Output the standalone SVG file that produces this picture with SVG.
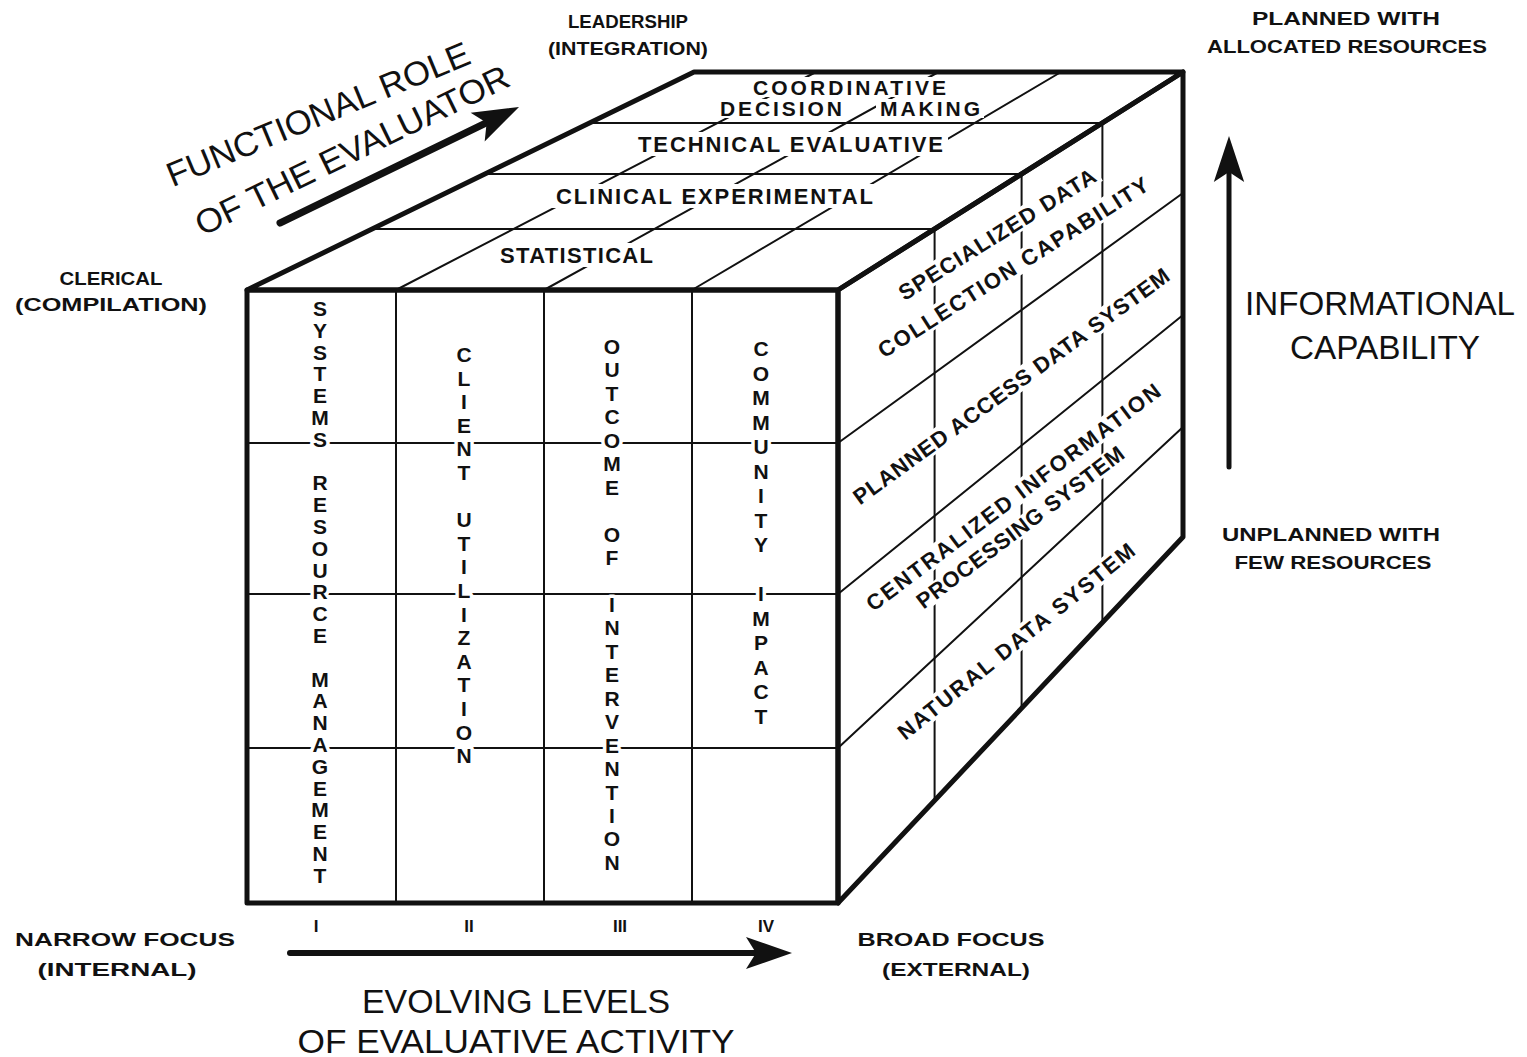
<svg xmlns="http://www.w3.org/2000/svg" width="1527" height="1057" viewBox="0 0 1527 1057">
  <style>
    .edge{fill:none;stroke:#111;stroke-width:5;stroke-linejoin:round;stroke-linecap:round}
    .grid{fill:none;stroke:#111;stroke-width:2;stroke-linecap:round}
    .shaft{fill:none;stroke:#111;stroke-linecap:round}
    .head{fill:#111}
    .mask{fill:#fff}
    .lbl{font-family:'Liberation Sans',Arial,sans-serif;font-weight:bold;font-size:18px;fill:#111;text-anchor:middle}
    .big{font-family:'Liberation Sans',Arial,sans-serif;font-weight:normal;font-size:34px;fill:#111;text-anchor:middle}
    .cell{font-family:'Liberation Sans',Arial,sans-serif;font-weight:bold;font-size:22px;fill:#111}
    .mid{text-anchor:middle}
    .col{text-anchor:middle;font-size:21px;stroke:#fff;stroke-width:7;stroke-linejoin:round;paint-order:stroke}
    .rn{font-family:'Liberation Sans',Arial,sans-serif;font-weight:bold;font-size:17px;fill:#111;text-anchor:middle}
  </style>
  <defs>
    <!-- barbed arrowhead, tip at origin pointing along +x -->
    <path id="head" d="M0,0 L-46,-16 L-36,0 L-46,16 Z"/>
  </defs>
  <rect width="1527" height="1057" fill="#fff"/>

  <!-- inner grid lines of the three faces -->
  <g id="connectors">
    <g id="top-grid" class="grid">
      <line x1="372" y1="229" x2="934.6" y2="229"/>
      <line x1="485" y1="174" x2="1021.6" y2="174"/>
      <line x1="589" y1="123" x2="1102.4" y2="123"/>
      <line x1="396" y1="290" x2="816" y2="72"/>
      <line x1="544" y1="290" x2="938.5" y2="72"/>
      <line x1="692" y1="290" x2="1061" y2="72"/>
    </g>
    <g id="right-grid" class="grid">
      <line x1="838" y1="443" x2="1183" y2="193"/>
      <line x1="838" y1="594" x2="1183" y2="315"/>
      <line x1="838" y1="748" x2="1183" y2="427"/>
      <line x1="934.6" y1="229" x2="934.6" y2="800.5"/>
      <line x1="1021.6" y1="174" x2="1021.6" y2="708"/>
      <line x1="1102.4" y1="123" x2="1102.4" y2="622.5"/>
    </g>
    <g id="front-grid" class="grid">
      <line x1="396" y1="290" x2="396" y2="903"/>
      <line x1="544" y1="290" x2="544" y2="903"/>
      <line x1="692" y1="290" x2="692" y2="903"/>
      <line x1="247" y1="443" x2="838" y2="443"/>
      <line x1="247" y1="594" x2="838" y2="594"/>
      <line x1="247" y1="748" x2="838" y2="748"/>
    </g>
  </g>

  <!-- top face: functional role levels (white plates break the grid behind the words) -->
  <g id="top-face">
    <g id="level-statistical">
      <rect class="mask" x="495" y="243" width="163" height="24"/>
      <text class="cell" x="500" y="263" textLength="153" lengthAdjust="spacing">STATISTICAL</text>
    </g>
    <g id="level-clinical">
      <rect class="mask" x="551" y="184" width="327" height="24"/>
      <text class="cell" x="556" y="204" textLength="317" lengthAdjust="spacing">CLINICAL EXPERIMENTAL</text>
    </g>
    <g id="level-technical">
      <rect class="mask" x="633" y="132" width="315" height="24"/>
      <text class="cell" x="638" y="152" textLength="305" lengthAdjust="spacing">TECHNICAL EVALUATIVE</text>
    </g>
    <g id="level-coordinative">
      <rect class="mask" x="749" y="77" width="201" height="20"/>
      <rect class="mask" x="716" y="99" width="130" height="19"/>
      <rect class="mask" x="876" y="99" width="108" height="19"/>
      <text class="cell" x="753" y="95" style="font-size:21px" textLength="193" lengthAdjust="spacing">COORDINATIVE</text>
      <text class="cell" x="720" y="116" style="font-size:21px" textLength="122" lengthAdjust="spacing">DECISION</text>
      <text class="cell" x="880" y="116" style="font-size:21px" textLength="100" lengthAdjust="spacing">MAKING</text>
    </g>
  </g>

  <!-- right face: informational capability levels -->
  <g id="right-face">
    <g id="level-specialized">
      <g transform="translate(997,234) rotate(-32)">
        <rect class="mask" x="-118" y="-11" width="236" height="22"/>
        <text class="cell mid" y="8" textLength="228" lengthAdjust="spacing">SPECIALIZED DATA</text>
      </g>
      <g transform="translate(1013,267) rotate(-32.5)">
        <rect class="mask" x="-162" y="-11" width="324" height="22"/>
        <text class="cell mid" y="8" textLength="316" lengthAdjust="spacing">COLLECTION CAPABILITY</text>
      </g>
    </g>
    <g id="level-planned-access" transform="translate(1011,386) rotate(-36)">
      <rect class="mask" x="-196" y="-11" width="392" height="22"/>
      <text class="cell mid" y="8" textLength="385" lengthAdjust="spacing">PLANNED ACCESS DATA SYSTEM</text>
    </g>
    <g id="level-centralized">
      <g transform="translate(1013,497) rotate(-37)">
        <rect class="mask" x="-185" y="-11" width="370" height="22"/>
        <text class="cell mid" y="8" textLength="362" lengthAdjust="spacing">CENTRALIZED INFORMATION</text>
      </g>
      <g transform="translate(1020,527) rotate(-37)">
        <rect class="mask" x="-131" y="-9" width="262" height="20"/>
        <text class="cell mid" y="8" textLength="254" lengthAdjust="spacing">PROCESSING SYSTEM</text>
      </g>
    </g>
    <g id="level-natural" transform="translate(1016,641) rotate(-39)">
      <rect class="mask" x="-153" y="-11" width="306" height="22"/>
      <text class="cell mid" y="8" textLength="298" lengthAdjust="spacing">NATURAL DATA SYSTEM</text>
    </g>
  </g>

  <!-- front face: evaluative activity levels, lettered vertically -->
  <g id="front-face">
    <text id="level-1" class="cell col"><tspan x="320" y="316">S</tspan><tspan x="320" y="338">Y</tspan><tspan x="320" y="360">S</tspan><tspan x="320" y="381">T</tspan><tspan x="320" y="403">E</tspan><tspan x="320" y="425">M</tspan><tspan x="320" y="447">S</tspan><tspan x="320" y="490">R</tspan><tspan x="320" y="512">E</tspan><tspan x="320" y="534">S</tspan><tspan x="320" y="556">O</tspan><tspan x="320" y="578">U</tspan><tspan x="320" y="599">R</tspan><tspan x="320" y="621">C</tspan><tspan x="320" y="643">E</tspan><tspan x="320" y="687">M</tspan><tspan x="320" y="708">A</tspan><tspan x="320" y="730">N</tspan><tspan x="320" y="752">A</tspan><tspan x="320" y="774">G</tspan><tspan x="320" y="796">E</tspan><tspan x="320" y="817">M</tspan><tspan x="320" y="839">E</tspan><tspan x="320" y="861">N</tspan><tspan x="320" y="883">T</tspan></text>
    <text id="level-2" class="cell col"><tspan x="464" y="362">C</tspan><tspan x="464" y="386">L</tspan><tspan x="464" y="409">I</tspan><tspan x="464" y="433">E</tspan><tspan x="464" y="456">N</tspan><tspan x="464" y="480">T</tspan><tspan x="464" y="527">U</tspan><tspan x="464" y="551">T</tspan><tspan x="464" y="574">I</tspan><tspan x="464" y="598">L</tspan><tspan x="464" y="622">I</tspan><tspan x="464" y="645">Z</tspan><tspan x="464" y="669">A</tspan><tspan x="464" y="692">T</tspan><tspan x="464" y="716">I</tspan><tspan x="464" y="740">O</tspan><tspan x="464" y="763">N</tspan></text>
    <text id="level-3" class="cell col"><tspan x="612" y="354">O</tspan><tspan x="612" y="377">U</tspan><tspan x="612" y="401">T</tspan><tspan x="612" y="424">C</tspan><tspan x="612" y="448">O</tspan><tspan x="612" y="471">M</tspan><tspan x="612" y="495">E</tspan><tspan x="612" y="542">O</tspan><tspan x="612" y="565">F</tspan><tspan x="612" y="612">I</tspan><tspan x="612" y="635">N</tspan><tspan x="612" y="659">T</tspan><tspan x="612" y="682">E</tspan><tspan x="612" y="706">R</tspan><tspan x="612" y="729">V</tspan><tspan x="612" y="753">E</tspan><tspan x="612" y="776">N</tspan><tspan x="612" y="800">T</tspan><tspan x="612" y="823">I</tspan><tspan x="612" y="846">O</tspan><tspan x="612" y="870">N</tspan></text>
    <text id="level-4" class="cell col"><tspan x="761" y="356">C</tspan><tspan x="761" y="381">O</tspan><tspan x="761" y="405">M</tspan><tspan x="761" y="430">M</tspan><tspan x="761" y="454">U</tspan><tspan x="761" y="479">N</tspan><tspan x="761" y="503">I</tspan><tspan x="761" y="528">T</tspan><tspan x="761" y="552">Y</tspan><tspan x="761" y="601">I</tspan><tspan x="761" y="626">M</tspan><tspan x="761" y="650">P</tspan><tspan x="761" y="675">A</tspan><tspan x="761" y="699">C</tspan><tspan x="761" y="724">T</tspan></text>
  </g>

  <!-- heavy outline of the cube -->
  <g id="cube-outline" class="edge">
    <polygon points="247,290 694,72 1183,72 838,290"/>
    <polygon points="838,290 1183,72 1183,537 838,903"/>
    <rect x="247" y="290" width="591" height="613"/>
  </g>

  <!-- axis arrows -->
  <g id="arrows">
    <g id="arrow-role">
      <line class="shaft" x1="280" y1="223" x2="488" y2="122" stroke-width="7"/>
      <use href="#head" class="head" transform="translate(519,107) rotate(-26)"/>
    </g>
    <g id="arrow-info">
      <line class="shaft" x1="1229" y1="467" x2="1229" y2="165" stroke-width="5"/>
      <use href="#head" class="head" transform="translate(1229,136) rotate(-90) scale(1,0.95)"/>
    </g>
    <g id="arrow-levels">
      <line class="shaft" x1="290" y1="953" x2="760" y2="953" stroke-width="6"/>
      <use href="#head" class="head" transform="translate(792,953)"/>
    </g>
  </g>

  <!-- axis titles -->
  <g id="axis-role">
    <text class="big" transform="translate(318,114) rotate(-22.5)" y="12" textLength="325" lengthAdjust="spacingAndGlyphs">FUNCTIONAL ROLE</text>
    <text class="big" transform="translate(352,150) rotate(-26)" y="12" textLength="345" lengthAdjust="spacingAndGlyphs">OF THE EVALUATOR</text>
  </g>
  <g id="axis-info">
    <text class="big" x="1380" y="315" textLength="270" lengthAdjust="spacingAndGlyphs">INFORMATIONAL</text>
    <text class="big" x="1385" y="359" textLength="190" lengthAdjust="spacingAndGlyphs">CAPABILITY</text>
  </g>
  <g id="axis-levels">
    <text class="big" x="516" y="1013" textLength="308" lengthAdjust="spacingAndGlyphs">EVOLVING LEVELS</text>
    <text class="big" x="516" y="1053" textLength="437" lengthAdjust="spacingAndGlyphs">OF EVALUATIVE ACTIVITY</text>
  </g>

  <!-- end-point labels of the three axes -->
  <g id="label-leadership">
    <text class="lbl" x="628" y="28" textLength="120" lengthAdjust="spacingAndGlyphs">LEADERSHIP</text>
    <text class="lbl" x="628" y="55" textLength="160" lengthAdjust="spacingAndGlyphs">(INTEGRATION)</text>
  </g>
  <g id="label-clerical">
    <text class="lbl" x="111" y="285" textLength="103" lengthAdjust="spacingAndGlyphs">CLERICAL</text>
    <text class="lbl" x="111" y="311" textLength="192" lengthAdjust="spacingAndGlyphs">(COMPILATION)</text>
  </g>
  <g id="label-planned">
    <text class="lbl" x="1346" y="25" textLength="188" lengthAdjust="spacingAndGlyphs">PLANNED WITH</text>
    <text class="lbl" x="1347" y="53" textLength="280" lengthAdjust="spacingAndGlyphs">ALLOCATED RESOURCES</text>
  </g>
  <g id="label-unplanned">
    <text class="lbl" x="1331" y="541" textLength="218" lengthAdjust="spacingAndGlyphs">UNPLANNED WITH</text>
    <text class="lbl" x="1333" y="569" textLength="197" lengthAdjust="spacingAndGlyphs">FEW RESOURCES</text>
  </g>
  <g id="label-narrow">
    <text class="lbl" x="125" y="946" textLength="220" lengthAdjust="spacingAndGlyphs">NARROW FOCUS</text>
    <text class="lbl" x="117" y="976" textLength="159" lengthAdjust="spacingAndGlyphs">(INTERNAL)</text>
  </g>
  <g id="label-broad">
    <text class="lbl" x="951" y="946" textLength="187" lengthAdjust="spacingAndGlyphs">BROAD FOCUS</text>
    <text class="lbl" x="956" y="976" textLength="148" lengthAdjust="spacingAndGlyphs">(EXTERNAL)</text>
  </g>
  <g id="level-numerals">
    <text class="rn" x="316" y="932">I</text>
    <text class="rn" x="469" y="932">II</text>
    <text class="rn" x="620" y="932">III</text>
    <text class="rn" x="766" y="932">IV</text>
  </g>
</svg>
